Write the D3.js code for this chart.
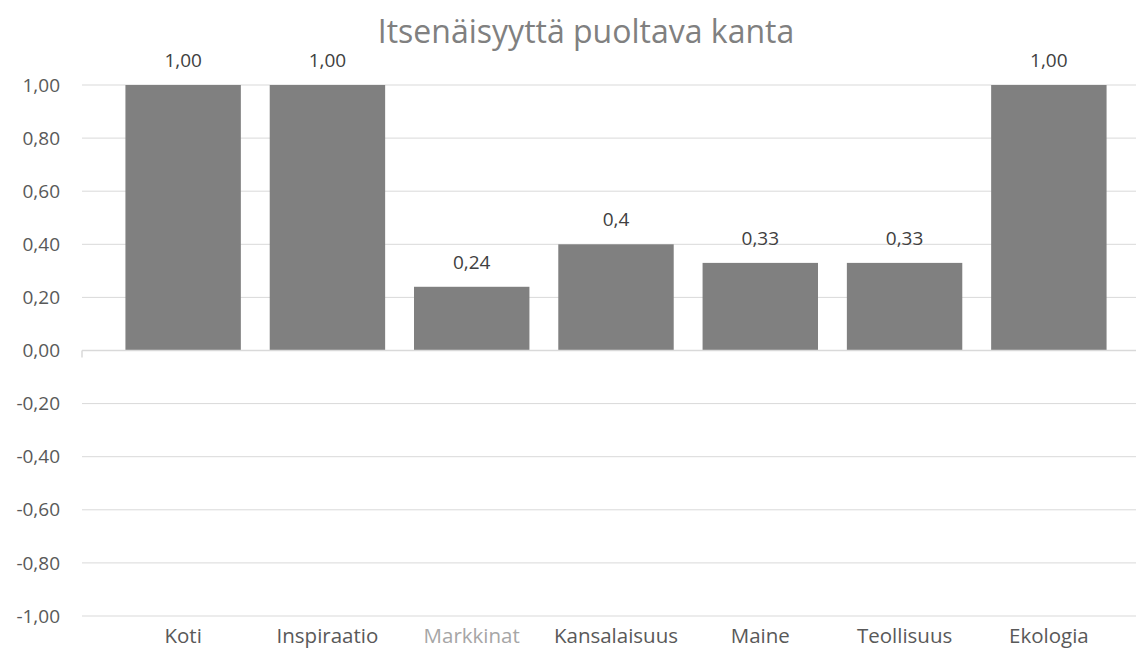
<!DOCTYPE html>
<html>
<head>
<meta charset="utf-8">
<script src="https://cdn.jsdelivr.net/npm/d3@7"></script>
<style>
  body { margin: 0; background: #fff; }
  text { font-family: "Open Sans", "Liberation Sans", sans-serif; }
</style>
</head>
<body>
<svg id="chart" width="1138" height="653"></svg>
<script>
const categories = ["Koti", "Inspiraatio", "Markkinat", "Kansalaisuus", "Maine", "Teollisuus", "Ekologia"];
const values = [1.00, 1.00, 0.24, 0.4, 0.33, 0.33, 1.00];
const valueLabels = ["1,00", "1,00", "0,24", "0,4", "0,33", "0,33", "1,00"];
const yTicks = [-1, -0.8, -0.6, -0.4, -0.2, 0, 0.2, 0.4, 0.6, 0.8, 1];
const title = "Itsenäisyyttä puoltava kanta";

const svg = d3.select("#chart");
const gridLeft = 82, gridRight = 1136;

const x = d3.scaleBand()
  .domain(categories)
  .range([111, 1121])
  .paddingInner(0.2)
  .paddingOuter(0.1);

const y = d3.scaleLinear()
  .domain([-1, 1])
  .range([616, 85]);

let fmt = v => d3.format(".2f")(v).replace(".", ",").replace("−", "-");

// gridlines
svg.append("g")
  .selectAll("line")
  .data(yTicks.filter(d => d !== 0))
  .join("line")
  .attr("x1", gridLeft).attr("x2", gridRight)
  .attr("y1", d => y(d)).attr("y2", d => y(d))
  .attr("stroke", "#d9d9d9")
  .attr("stroke-width", 1);

// y labels
svg.append("g")
  .selectAll("text")
  .data(yTicks)
  .join("text")
  .attr("x", 60)
  .attr("y", d => y(d))
  .attr("dy", "0.35em")
  .attr("text-anchor", "end")
  .attr("fill", "#595959")
  .style("font-size", "19px")
  .text(fmt);

// bars
svg.append("g")
  .selectAll("rect")
  .data(values)
  .join("rect")
  .attr("x", (d, i) => x(categories[i]))
  .attr("width", x.bandwidth())
  .attr("y", d => y(Math.max(0, d)))
  .attr("height", d => Math.abs(y(d) - y(0)))
  .attr("fill", "#808080");

// zero axis line with small tick at left
svg.append("line")
  .attr("x1", gridLeft).attr("x2", gridRight)
  .attr("y1", y(0)).attr("y2", y(0))
  .attr("stroke", "#d9d9d9").attr("stroke-width", 1.5);
svg.append("line")
  .attr("x1", gridLeft).attr("x2", gridLeft)
  .attr("y1", y(0)).attr("y2", y(0) + 7)
  .attr("stroke", "#d9d9d9").attr("stroke-width", 1.5);

// value labels
svg.append("g")
  .selectAll("text")
  .data(values)
  .join("text")
  .attr("x", (d, i) => x(categories[i]) + x.bandwidth() / 2)
  .attr("y", d => y(d) - 18)
  .attr("text-anchor", "middle")
  .attr("fill", "#404040")
  .style("font-size", "19px")
  .text((d, i) => valueLabels[i]);

// category labels
svg.append("g")
  .selectAll("text")
  .data(categories)
  .join("text")
  .attr("x", d => x(d) + x.bandwidth() / 2)
  .attr("y", 643)
  .attr("text-anchor", "middle")
  .attr("fill", d => d === "Markkinat" ? "#a6a6a6" : "#595959")
  .style("font-size", "20.5px")
  .text(d => d);

// title
svg.append("text")
  .attr("x", 586)
  .attr("y", 43)
  .attr("text-anchor", "middle")
  .attr("fill", "#808080")
  .style("font-size", "32px")
  .text(title);
</script>
</body>
</html>
